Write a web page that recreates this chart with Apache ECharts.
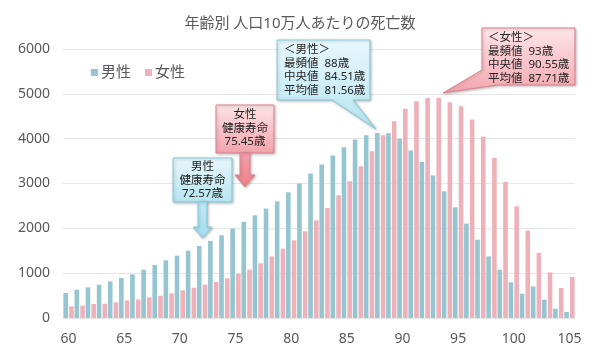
<!DOCTYPE html>
<html>
<head>
<meta charset="utf-8">
<script src="https://cdn.jsdelivr.net/npm/echarts/dist/echarts.min.js"></script>
<style>
  html, body { margin: 0; padding: 0; background: #fff; }
  #chart { width: 600px; height: 354px; }
</style>
</head>
<body>
<div id="chart"></div>
<script>
// 年齢 60〜105歳
const ages = []
for (let a = 60; a <= 105; a++) ages.push(String(a))

// 人口10万人あたりの死亡数
const maleDeaths = [
  558, 632, 683, 743, 817, 893, 973, 1078, 1183, 1286,
  1391, 1502, 1607, 1719, 1844, 1993, 2145, 2290, 2440, 2603,
  2804, 2998, 3221, 3422, 3623, 3808, 3980, 4076, 4129, 4121,
  3996, 3734, 3478, 3176, 2826, 2469, 2105, 1748, 1375, 1078,
  795, 542, 705, 408, 208, 134
]
const femaleDeaths = [
  259, 275, 312, 319, 348, 393, 415, 460, 498, 549,
  616, 676, 743, 804, 884, 989, 1078, 1219, 1375, 1547,
  1732, 1933, 2179, 2455, 2737, 3049, 3384, 3719, 4076, 4388,
  4665, 4835, 4905, 4915, 4813, 4723, 4426, 4040, 3571, 3036,
  2491, 1949, 1451, 1018, 670, 915
]
const seriesNames = ['男性', '女性']

const maleNote = ['＜男性＞', '最頻値  88歳', '中央値  84.51歳', '平均値  81.56歳']
const femaleNote = ['＜女性＞', '最頻値  93歳', '中央値  90.55歳', '平均値  87.71歳']
const maleHealthy = ['男性', '健康寿命', '72.57歳']
const femaleHealthy = ['女性', '健康寿命', '75.45歳']

const FONT = "'Noto Sans', 'Noto Sans CJK JP', sans-serif"
const TEAL = '#94c5d0'
const PINK = '#eeb1ba'

const chart = echarts.init(document.getElementById('chart'))

// 吹き出し・矢印の塗り
function vgrad (top, bottom) {
  return new echarts.graphic.LinearGradient(0, 0, 0, 1, [
    { offset: 0, color: top },
    { offset: 1, color: bottom }
  ])
}
const shadow = { shadowBlur: 3, shadowOffsetX: 1, shadowOffsetY: 1, shadowColor: 'rgba(0,0,0,0.25)' }

function noteText (x, y, lines, align) {
  return {
    type: 'text',
    x: x,
    y: y,
    style: {
      text: lines.join('\n'),
      font: '11.5px ' + FONT,
      lineHeight: 13.5,
      fill: '#222',
      align: align || 'left',
      verticalAlign: 'top'
    },
    z: 110
  }
}

chart.setOption({
  animation: false,
  textStyle: { fontFamily: FONT },
  title: {
    text: '年齢別 人口10万人あたりの死亡数',
    left: 'center',
    top: 11,
    textStyle: { fontSize: 15, fontWeight: 'normal', color: '#595959', fontFamily: FONT }
  },
  legend: {
    data: seriesNames,
    left: 86,
    top: 60,
    icon: 'rect',
    itemWidth: 7,
    itemHeight: 7,
    itemGap: 14,
    textStyle: { fontSize: 15, color: '#595959', padding: [0, 0, 0, -2] }
  },
  grid: { left: 63, right: 25, top: 49, bottom: 36 },
  xAxis: {
    type: 'category',
    data: ages,
    axisLine: { show: false },
    axisTick: { show: false },
    axisLabel: { interval: 4, fontSize: 14, color: '#595959', margin: 14 }
  },
  yAxis: {
    type: 'value',
    min: 0,
    max: 6000,
    interval: 1000,
    axisLine: { show: false },
    axisTick: { show: false },
    axisLabel: { fontSize: 14, color: '#595959', margin: 13, formatter: v => String(v) },
    splitLine: { lineStyle: { color: '#e6e6e6' } }
  },
  series: [
    {
      name: seriesNames[0],
      type: 'bar',
      data: maleDeaths,
      barWidth: 4.6,
      barGap: '25%',
      itemStyle: { color: TEAL }
    },
    {
      name: seriesNames[1],
      type: 'bar',
      data: femaleDeaths,
      barWidth: 4.6,
      itemStyle: { color: PINK }
    }
  ],
  graphic: [
    // 男性 吹き出し
    {
      type: 'polygon',
      shape: { points: [[277, 40], [370, 40], [370, 100], [353, 100], [376, 129], [332, 100], [277, 100]] },
      style: Object.assign({ fill: vgrad('#e8f8fc', '#b6e5f2'), stroke: '#86c9db', lineWidth: 1 }, shadow),
      z: 100
    },
    noteText(284, 43, maleNote),
    // 女性 吹き出し
    {
      type: 'polygon',
      shape: { points: [[482, 28], [575, 28], [575, 85], [498, 85], [443, 93], [482, 70]] },
      style: Object.assign({ fill: vgrad('#fde6e9', '#f4a6af'), stroke: '#d9838d', lineWidth: 1 }, shadow),
      z: 100
    },
    noteText(488, 31, femaleNote),
    // 女性 健康寿命
    {
      type: 'rect',
      shape: { x: 216, y: 105, width: 58, height: 48 },
      style: Object.assign({ fill: vgrad('#fde4e7', '#f3a3ac'), stroke: '#dc8791', lineWidth: 1 }, shadow),
      z: 100
    },
    {
      type: 'polygon',
      shape: { points: [[240, 153], [250, 153], [250, 175], [255, 175], [245, 187], [235, 175], [240, 175]] },
      style: Object.assign({ fill: vgrad('#f4a2ab', '#ee7f8a'), stroke: '#dc8791', lineWidth: 1 }, shadow),
      z: 100
    },
    noteText(245, 108, femaleHealthy, 'center'),
    // 男性 健康寿命
    {
      type: 'rect',
      shape: { x: 173, y: 158, width: 59, height: 44 },
      style: Object.assign({ fill: vgrad('#e8f8fc', '#b6e5f2'), stroke: '#86c9db', lineWidth: 1 }, shadow),
      z: 100
    },
    {
      type: 'polygon',
      shape: { points: [[198, 202], [207, 202], [207, 227], [212, 227], [202.5, 238], [193, 227], [198, 227]] },
      style: Object.assign({ fill: vgrad('#c4ebf6', '#a2dcee'), stroke: '#86c9db', lineWidth: 1 }, shadow),
      z: 100
    },
    noteText(202.5, 160, maleHealthy, 'center')
  ]
})
</script>
</body>
</html>
